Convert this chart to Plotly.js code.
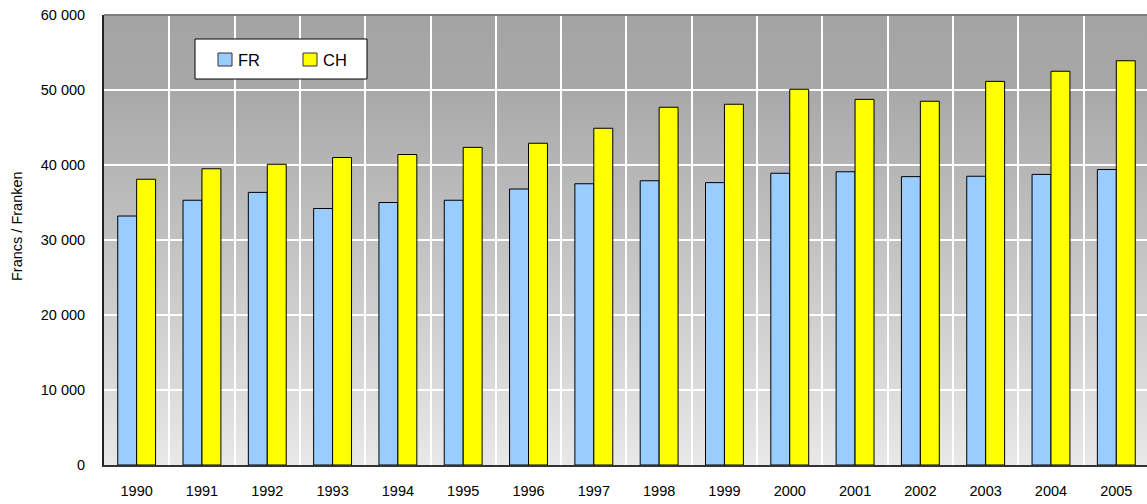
<!DOCTYPE html>
<html>
<head>
<meta charset="utf-8">
<script src="https://cdn.plot.ly/plotly-3.0.1.min.js"></script>
<style>
  html, body { margin: 0; padding: 0; background: #fff; }
  #chart { width: 1147px; height: 504px; }
</style>
</head>
<body>
<div id="chart"></div>
<script>
// years on the x axis
var years = ["1990", "1991", "1992", "1993", "1994", "1995", "1996", "1997",
             "1998", "1999", "2000", "2001", "2002", "2003", "2004", "2005"];

// values (francs)
var frValues = [33200, 35300, 36350, 34200, 35000, 35300, 36800, 37500,
                37900, 37650, 38900, 39100, 38450, 38500, 38750, 39400];
var chValues = [38100, 39500, 40100, 41000, 41400, 42350, 42900, 44900,
                47700, 48100, 50100, 48750, 48500, 51150, 52500, 53900];

var yTicks = [0, 10000, 20000, 30000, 40000, 50000, 60000];

var seriesNames = ["FR", "CH"];
var seriesColors = ["#99ccff", "#ffff00"];

var fontFam = "'Liberation Sans', Arial, sans-serif";

// plot area in pixels, used to place the hand-made legend box
var plotL = 104, plotT = 15, plotW = 1043, plotH = 450;
function px(x) { return (x - plotL) / plotW; }
function py(y) { return (plotT + plotH - y) / plotH; }

// grey gradient behind the plot area
var bgSvg = "<svg xmlns='http://www.w3.org/2000/svg' width='10' height='100' preserveAspectRatio='none'>" +
    "<defs><linearGradient id='g' x1='0' y1='0' x2='0' y2='1'>" +
    "<stop offset='0' stop-color='#a4a4a4'/>" +
    "<stop offset='0.15' stop-color='#a7a7a7'/>" +
    "<stop offset='1' stop-color='#e8e8e8'/>" +
    "</linearGradient></defs><rect width='10' height='100' fill='url(#g)'/></svg>";

var data = [frValues, chValues].map(function (vals, i) {
    return {
        x: years,
        y: vals,
        name: seriesNames[i],
        type: "bar",
        marker: {color: seriesColors[i], line: {color: "#000", width: 1}}
    };
});

// legend: white box with two swatches
var shapes = [
    {type: "line", xref: "paper", yref: "paper", x0: 0, x1: 1, y0: 1, y1: 1,
     line: {color: "#7f7f7f", width: 2}},
    {type: "rect", xref: "paper", yref: "paper",
     x0: px(195), x1: px(367), y0: py(79), y1: py(39),
     fillcolor: "#fff", line: {color: "#000", width: 1}}
];
var annotations = [];
var swatchX = [218, 303];
seriesNames.forEach(function (name, i) {
    shapes.push({type: "rect", xref: "paper", yref: "paper",
        x0: px(swatchX[i]), x1: px(swatchX[i] + 14), y0: py(66), y1: py(53),
        fillcolor: seriesColors[i], line: {color: "#333", width: 1}});
    annotations.push({xref: "paper", yref: "paper", x: px(swatchX[i] + 18), y: py(59.5),
        xanchor: "left", yanchor: "middle", showarrow: false, text: name,
        font: {family: fontFam, size: 16.5, color: "#000"}});
});

// y axis title, placed where the reference has it
annotations.push({xref: "paper", yref: "paper", x: px(17), y: py(226),
    xanchor: "center", yanchor: "middle", showarrow: false, textangle: -90,
    text: "Francs / Franken", font: {family: fontFam, size: 14.5, color: "#000"}});

var layout = {
    width: 1147,
    height: 504,
    margin: {l: plotL, r: 0, t: plotT, b: 39},
    paper_bgcolor: "#fff",
    plot_bgcolor: "rgba(0,0,0,0)",
    separators: ". ",
    font: {family: fontFam, size: 14.5, color: "#000"},
    barmode: "group",
    bargap: 0.42,
    bargroupgap: 0,
    showlegend: false,
    xaxis: {
        type: "category",
        range: [-0.5, 15.47],
        tickson: "boundaries",
        ticks: "",
        showgrid: true,
        gridcolor: "#fff",
        gridwidth: 2,
        showline: true,
        linecolor: "#333",
        linewidth: 2,
        ticklabelstandoff: 12,
        tickfont: {family: fontFam, size: 14.5}
    },
    yaxis: {
        range: [0, 60000],
        tickvals: yTicks,
        tickformat: ",d",
        ticks: "",
        showgrid: true,
        gridcolor: "#fff",
        gridwidth: 2,
        zeroline: false,
        showline: true,
        linecolor: "#222",
        linewidth: 2,
        ticklabelstandoff: 14,
        tickfont: {family: fontFam, size: 14.5}
    },
    images: [{
        source: "data:image/svg+xml;charset=utf-8," + encodeURIComponent(bgSvg),
        xref: "paper", yref: "paper",
        x: 0, y: 1, sizex: 1, sizey: 1,
        xanchor: "left", yanchor: "top",
        sizing: "stretch",
        layer: "below"
    }],
    shapes: shapes,
    annotations: annotations
};

Plotly.newPlot("chart", data, layout, {displayModeBar: false, staticPlot: true});
</script>
</body>
</html>
